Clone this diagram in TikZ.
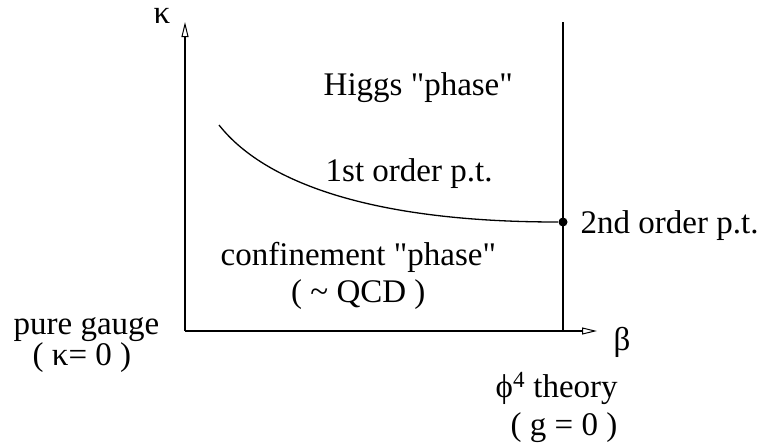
\documentclass[tikz,border=0pt]{standalone}
\usepackage{fontspec}
\setmainfont{Liberation Serif}
\usetikzlibrary{arrows.meta}

\begin{document}
\begin{tikzpicture}[x=1pt,y=-1pt,line width=1.4pt,
                    >={Triangle[open,length=15pt,width=7pt,line width=1pt]},
                    label node/.style={anchor=base west,inner sep=0pt,font=\fontsize{33}{38}\selectfont}]
\useasboundingbox (0,0) rectangle (766,445);
%%%%%
\coordinate (o) at (185,331);
\coordinate (ytip) at (185,22);
\coordinate (xtip) at (597,331);
\coordinate (ltop) at (563,22);
\coordinate (lbot) at (563,331);
\coordinate (c1) at (219,125);
\node[circle,fill,inner sep=0pt,minimum size=9pt] (pt2) at (563,222) {};
%%%%%
\draw[->] (o) -- (ytip);
\draw[->] (o) -- (xtip);
\draw (ltop) -- (lbot);
\draw[line width=1.3pt] (c1) .. controls (245,158) and (320,222) .. (pt2);
%%%%%
\node[label node,text height=14pt] (kappa) at (153,23) {κ};
\node[label node] (beta) at (613,350) {β};
\node[label node] (higgs) at (323,95) {Higgs \textquotedbl phase\textquotedbl};
\node[label node] (first) at (325,181) {1st order p.t.};
\node[label node] (second) at (580,233) {2nd order p.t.};
\node[label node] (conf) at (220,265) {confinement \textquotedbl phase\textquotedbl};
\node[label node,anchor=base] (qcd) at (conf.base |- 0,302) {( \textasciitilde{} QCD )};
\node[label node,text depth=2pt] (pure) at (13,334) {pure gauge};
\node[label node,text height=20pt] (kzero) at (32,365) {( κ= 0 )};
\node[label node] (phi) at (495,397) {ϕ\textsuperscript{4} theory};
\node[label node] (gzero) at (510,435) {( g = 0 )};
\end{tikzpicture}
\end{document}
